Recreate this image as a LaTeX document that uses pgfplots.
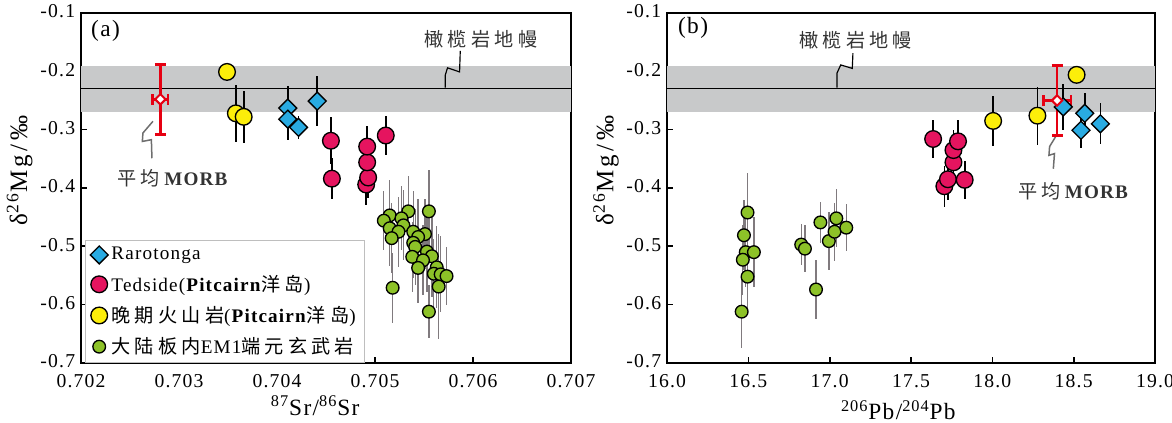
\documentclass[border=0pt]{standalone}
\usepackage{fontspec}
\setmainfont[LetterSpace=6]{Liberation Serif}
\newfontfamily\cjk[LetterSpace=22]{Noto Sans CJK SC}
\usepackage{pgfplots}
\pgfplotsset{compat=1.18}

\definecolor{cyanm}{RGB}{41,171,226}
\definecolor{redm}{RGB}{229,20,95}
\definecolor{yelm}{RGB}{252,238,10}
\definecolor{grnm}{RGB}{141,194,40}
\definecolor{bandc}{RGB}{200,201,202}
\definecolor{errg}{RGB}{128,122,126}
\definecolor{morbr}{RGB}{230,0,18}
\definecolor{leadg}{RGB}{110,110,110}

\pgfplotsset{
  panel/.style={
    scale only axis, height=210pt,
    ymin=-0.7, ymax=-0.1,
    ytick={-0.7,-0.6,-0.5,-0.4,-0.3,-0.2,-0.1},
    yticklabels={-0.7,-0.6,-0.5,-0.4,-0.3,-0.2,-0.1},
    scaled x ticks=false,
    tick align=inside, xtick pos=bottom, ytick pos=left,
    major tick length=3.5pt,
    every tick/.style={black, line width=1pt},
    axis line style={line width=1.2pt},
    ticklabel style={font=\fontsize{11.8}{13}\selectfont},
    xticklabel style={yshift=-3.5pt},
    yticklabel style={yshift=1pt},
    every axis y label/.style={at={(axis description cs:-0.125,0.55)}, rotate=90, anchor=center,
      font=\fontsize{15}{17}\selectfont\addfontfeatures{LetterSpace=14}},
    ylabel={δ\textsuperscript{26}Mg/‰},
  },
  cyanst/.style={only marks, mark=square*, mark size=3.8pt, mark options={rotate=45, fill=cyanm, draw=black, line width=0.8pt}},
  redst/.style={only marks, mark=*, mark size=5pt, mark options={fill=redm, draw=black, line width=0.8pt}},
  yelst/.style={only marks, mark=*, mark size=5pt, mark options={fill=yelm, draw=black, line width=0.8pt}},
  grnst/.style={only marks, mark=*, mark size=3.8pt, mark options={fill=grnm, draw=black, line width=0.8pt}},
  errk/.style={error bars/y dir=both, error bars/y explicit, error bars/error mark=none, error bars/error bar style={black, line width=1pt}},
  errgr/.style={error bars/y dir=both, error bars/y explicit, error bars/error mark=none, error bars/error bar style={errg, line width=0.8pt}},
  morbst/.style={only marks, mark=square*, mark size=2.2pt, mark options={rotate=45, fill=white, draw=morbr, line width=1.2pt},
    error bars/x dir=both, error bars/x explicit, error bars/y dir=both, error bars/y explicit,
    error bars/error bar style={morbr, line width=1.5pt},
    error bars/error mark options={rotate=90, morbr, mark size=3.3pt, line width=1.5pt}},
}

\begin{document}
\begin{tikzpicture}
\useasboundingbox (0,0) rectangle (703.2pt,253.8pt);

% ---------------- (a) ----------------
\begin{axis}[panel,
  at={(48.6pt,36pt)}, anchor=south west, width=294pt,
  xmin=0.702, xmax=0.707,
  xtick={0.702,0.703,0.704,0.705,0.706,0.707},
  xticklabels={0.702,0.703,0.704,0.705,0.706,0.707},
  every axis x label/.style={at={(axis description cs:0.478,-0.122)}, anchor=center, font=\fontsize{14}{15}\selectfont},
  xlabel={\textsuperscript{87}Sr/\textsuperscript{86}Sr},
  legend style={font=\fontsize{11.5}{13}\selectfont, draw={rgb,255:red,190;green,190;blue,190}, fill=white,
    at={(rel axis cs:0.008,0)}, anchor=south west, row sep=3.5pt, inner xsep=3pt, inner ysep=2pt},
  legend cell align=left,
]
\addplot[draw=none, fill=bandc, forget plot] coordinates {(0.702,-0.19) (0.707,-0.19) (0.707,-0.27) (0.702,-0.27)} -- cycle;
\addplot[black, line width=0.6pt, forget plot] coordinates {(0.702,-0.23) (0.707,-0.23)};
\addplot[black, line width=0.7pt, forget plot] coordinates {(0.70587,-0.165) (0.705863,-0.201) (0.70574,-0.194) (0.705716,-0.207) (0.705716,-0.228)};
\addplot[leadg, line width=0.9pt, forget plot] coordinates {(0.702734,-0.2857) (0.702632,-0.3057) (0.702626,-0.3202) (0.702718,-0.3172) (0.702724,-0.349)};

\addlegendimage{cyanst}\addlegendentry{Rarotonga}
\addlegendimage{redst}\addlegendentry{Tedside(\textbf{Pitcairn}{\cjk 洋岛})}
\addlegendimage{yelst}\addlegendentry{{\cjk 晚期火山岩}(\textbf{Pitcairn}{\cjk 洋岛})}
\addlegendimage{grnst}\addlegendentry{{\cjk 大陆板内}EM1{\cjk 端元玄武岩}}

\addplot[grnst, errgr, forget plot] table[x index=0, y index=1, y error index=2] {
0.70515 -0.447 0.06
0.70509 -0.456 0.05
0.70534 -0.440 0.06
0.70527 -0.452 0.055
0.70555 -0.440 0.07
0.70515 -0.469 0.065
0.70529 -0.464 0.06
0.70524 -0.475 0.06
0.70539 -0.475 0.07
0.70551 -0.479 0.06
0.70544 -0.484 0.065
0.70517 -0.486 0.06
0.70539 -0.494 0.06
0.70541 -0.501 0.065
0.70553 -0.509 0.07
0.70538 -0.518 0.06
0.70558 -0.517 0.07
0.70549 -0.524 0.06
0.70544 -0.537 0.06
0.70563 -0.536 0.07
0.70560 -0.547 0.06
0.70567 -0.548 0.065
0.70573 -0.551 0.05
0.70565 -0.569 0.09
0.70518 -0.571 0.06
0.70555 -0.612 0.045
};
\addplot[redst, errk, forget plot] table[x index=0, y index=1, y error index=2] {
0.70455 -0.319 0.04
0.70456 -0.384 0.035
0.70491 -0.394 0.035
0.70493 -0.382 0.035
0.70492 -0.356 0.035
0.70492 -0.329 0.035
0.70511 -0.310 0.033
};
\addplot[yelst, errk, forget plot] table[x index=0, y index=1, y error index=2] {
0.70349 -0.201 0.008
0.70358 -0.272 0.049
0.70366 -0.278 0.045
};
\addplot[cyanst, errk, forget plot] table[x index=0, y index=1, y error index=2] {
0.70411 -0.263 0.038
0.70411 -0.282 0.035
0.70422 -0.296 0.02
0.70441 -0.251 0.043
};
\addplot[morbst, forget plot] table[x index=0, y index=1, x error index=2, y error index=3] {
0.70281 -0.248 0.00008 0.06
};

\node[font=\cjk\fontsize{11.5}{13}\selectfont, text=black!80] at (axis cs:0.70608,-0.145) {橄榄岩地幔};
\node[font=\fontsize{11.5}{13}\selectfont, text=black!80] at (axis cs:0.70294,-0.383) {{\cjk 平均}\textbf{MORB}};
\node[font=\fontsize{14}{16}\selectfont] at (axis cs:0.70225,-0.130) {(a)};
\end{axis}

% ---------------- (b) ----------------
\begin{axis}[panel,
  at={(400.2pt,36pt)}, anchor=south west, width=292.8pt,
  xmin=16, xmax=19,
  xtick={16,16.5,17,17.5,18,18.5,19},
  xticklabels={16.0,16.5,17.0,17.5,18.0,18.5,19.0},
  every axis x label/.style={at={(axis description cs:0.474,-0.135)}, anchor=center, font=\fontsize{14}{15}\selectfont},
  xlabel={\textsuperscript{206}Pb/\textsuperscript{204}Pb},
]
\addplot[draw=none, fill=bandc] coordinates {(16,-0.19) (19,-0.19) (19,-0.27) (16,-0.27)} -- cycle;
\addplot[black, line width=0.6pt] coordinates {(16,-0.23) (19,-0.23)};
\addplot[black, line width=0.7pt] coordinates {(17.143,-0.169) (17.139,-0.195) (17.068,-0.189) (17.045,-0.203) (17.045,-0.228)};
\addplot[leadg, line width=0.9pt] coordinates {(18.391,-0.311) (18.352,-0.329) (18.348,-0.344) (18.382,-0.341) (18.375,-0.367)};

\addplot[grnst, errgr] table[x index=0, y index=1, y error index=2] {
16.495 -0.442 0.068
16.473 -0.481 0.06
16.484 -0.510 0.06
16.534 -0.510 0.06
16.466 -0.523 0.06
16.495 -0.552 0.06
16.459 -0.612 0.062
16.825 -0.497 0.035
16.848 -0.504 0.04
16.916 -0.574 0.05
16.943 -0.459 0.035
16.995 -0.491 0.05
17.030 -0.475 0.05
17.041 -0.452 0.05
17.102 -0.468 0.04
};
\addplot[redst, errk] table[x index=0, y index=1, y error index=2] {
17.636 -0.316 0.033
17.705 -0.397 0.035
17.727 -0.385 0.035
17.761 -0.356 0.035
17.761 -0.335 0.035
17.789 -0.320 0.037
17.830 -0.386 0.033
};
\addplot[yelst, errk] table[x index=0, y index=1, y error index=2] {
18.005 -0.285 0.043
18.277 -0.276 0.05
18.518 -0.206 0.008
};
\addplot[cyanst, errk] table[x index=0, y index=1, y error index=2] {
18.436 -0.261 0.04
18.568 -0.272 0.035
18.545 -0.301 0.03
18.664 -0.290 0.035
};
\addplot[morbst] table[x index=0, y index=1, x error index=2, y error index=3] {
18.398 -0.250 0.085 0.06
};

\node[font=\cjk\fontsize{11.5}{13}\selectfont, text=black!80] at (axis cs:17.16,-0.146) {橄榄岩地幔};
\node[font=\fontsize{11.5}{13}\selectfont, text=black!80] at (axis cs:18.5,-0.406) {{\cjk 平均}\textbf{MORB}};
\node[font=\fontsize{14}{16}\selectfont] at (axis cs:16.16,-0.126) {(b)};
\end{axis}
\end{tikzpicture}
\end{document}
